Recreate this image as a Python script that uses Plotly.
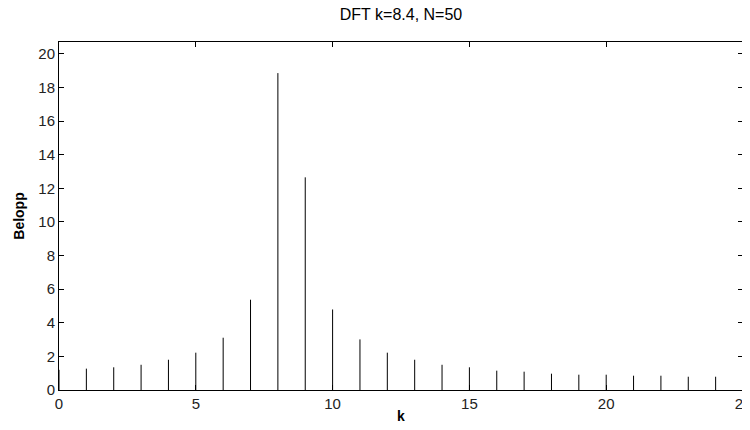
import plotly.graph_objects as go

# DFT magnitude, k = 0..25
k_values = list(range(0, 26))
belopp = [1.2, 1.27, 1.35, 1.50, 1.80, 2.22, 3.11, 5.37, 18.85, 12.65,
          4.79, 3.01, 2.22, 1.80, 1.50, 1.35, 1.15, 1.09, 0.97, 0.91,
          0.91, 0.85, 0.85, 0.79, 0.79, 0.77]

x_ticks = [0, 5, 10, 15, 20, 25]
y_ticks = list(range(0, 21, 2))

font_family = "Liberation Sans, Arial, sans-serif"

fig = go.Figure()

# stems drawn as downward error bars from each value to zero
fig.add_trace(go.Scatter(
    x=k_values,
    y=belopp,
    mode='markers',
    marker=dict(size=1, color='rgba(0,0,0,0)'),
    error_y=dict(
        type='data',
        symmetric=False,
        array=[0] * len(belopp),
        arrayminus=belopp,
        color='black',
        thickness=1,
        width=0,
    ),
    showlegend=False,
    hoverinfo='x+y',
))

axis_common = dict(
    showgrid=False,
    zeroline=False,
    showline=True,
    linecolor='black',
    linewidth=1,
    mirror='ticks',
    ticks='inside',
    ticklen=5,
    tickcolor='black',
    automargin=False,
    ticklabeloverflow='allow',
    tickfont=dict(family=font_family, size=15, color='#222'),
)

# the page body adds an 8px offset, margins are set to compensate
fig.update_layout(
    width=750,
    height=430,
    paper_bgcolor='white',
    plot_bgcolor='white',
    margin=dict(l=51, r=15, t=34, b=48),
    title=dict(
        text="DFT k=8.4, N=50",
        x=0.524,
        xanchor='center',
        y=0.998,
        yanchor='top',
        pad=dict(t=0, b=0),
        font=dict(family=font_family, size=16, color='black'),
    ),
    xaxis=dict(
        range=[0, 25],
        tickvals=x_ticks,
        title=dict(text="<b>k</b>", font=dict(family=font_family, size=14, color='black'), standoff=0),
        **axis_common,
    ),
    yaxis=dict(
        range=[0, 20.7],
        tickvals=y_ticks,
        title=dict(text="<b>Belopp</b>", font=dict(family=font_family, size=14, color='black'), standoff=10),
        **axis_common,
    ),
)

fig.write_html("out.html")
